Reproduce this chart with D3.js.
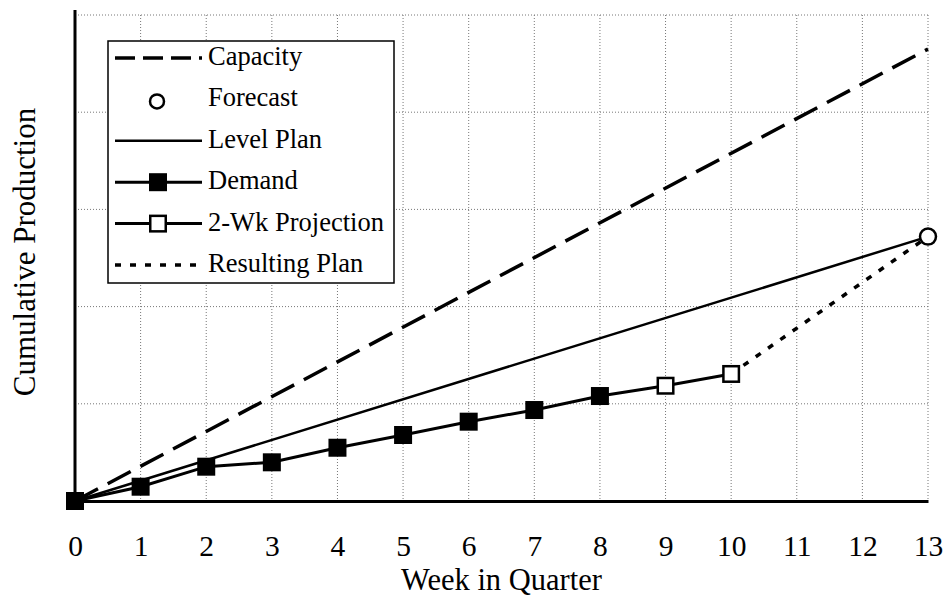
<!DOCTYPE html>
<html>
<head>
<meta charset="utf-8">
<script src="https://cdn.jsdelivr.net/npm/d3@7"></script>
<style>
  body { margin: 0; background: #fff; }
</style>
</head>
<body>
<div id="chart"></div>
<script>
// chart data (units: gridline step = 100)
var weekTicks = [0, 1, 2, 3, 4, 5, 6, 7, 8, 9, 10, 11, 12, 13];
var gridValues = [100, 200, 300, 400, 500];

var capacityWeeks = [0, 13];
var capacityValues = [0, 465];

var levelWeeks = [0, 13];
var levelValues = [0, 272];

var demandWeeks = [0, 1, 2, 3, 4, 5, 6, 7, 8];
var demandValues = [0, 14.7, 35.3, 39.8, 54.8, 67.9, 81.6, 93.6, 108];

var projectionWeeks = [8, 9, 10];
var projectionValues = [108, 118.6, 130.7];

var resultingWeeks = [10, 13];
var resultingValues = [130.7, 272];

var forecastWeek = [13];
var forecastValue = [272];

var legendLabels = ["Capacity", "Forecast", "Level Plan", "Demand", "2-Wk Projection", "Resulting Plan"];

var serif = "'Liberation Serif', Tinos, 'DejaVu Serif', 'Times New Roman', serif";

// set the dimensions
var width = 946, height = 599;
var margin = {top: 15, right: 18, bottom: 98, left: 75};

var svg = d3.select("#chart")
  .append("svg")
    .attr("width", width)
    .attr("height", height)
    .attr("font-family", serif);

var x = d3.scaleLinear()
    .domain([0, 13])
    .range([margin.left, width - margin.right]);

var y = d3.scaleLinear()
    .domain([0, 500])
    .range([height - margin.bottom, margin.top]);

function pts(ws, vs) { return ws.map(function(w, i) { return [w, vs[i]]; }); }

var line = d3.line()
    .x(function(d) { return x(d[0]); })
    .y(function(d) { return y(d[1]); });

// dotted grid
var grid = svg.append("g").attr("class", "grid")
    .attr("stroke", "#777")
    .attr("stroke-width", 1)
    .attr("stroke-dasharray", "1,2");

grid.selectAll("line.v")
  .data(weekTicks.slice(1))
  .enter().append("line")
    .attr("class", "v")
    .attr("x1", function(d) { return x(d); })
    .attr("x2", function(d) { return x(d); })
    .attr("y1", y(500))
    .attr("y2", y(0));

grid.selectAll("line.h")
  .data(gridValues)
  .enter().append("line")
    .attr("class", "h")
    .attr("x1", x(0))
    .attr("x2", x(13))
    .attr("y1", function(d) { return y(d); })
    .attr("y2", function(d) { return y(d); });

// x axis
var xAxis = svg.append("g")
    .attr("transform", "translate(0," + y(0) + ")")
    .call(d3.axisBottom(x).tickValues(weekTicks).tickSize(0).tickSizeOuter(0));
xAxis.attr("font-family", serif).attr("font-size", 29.5);
xAxis.select(".domain").attr("stroke", "#000").attr("stroke-width", 3);
xAxis.selectAll("text")
    .attr("y", 55)
    .attr("dy", 0);

// y axis (no ticks), runs a bit above the top gridline
var yAxis = svg.append("g")
    .attr("transform", "translate(" + x(0) + ",0)")
    .call(d3.axisLeft(y).tickValues([]).tickSizeOuter(0));
yAxis.select(".domain")
    .attr("d", "M0," + y(0) + "V" + (y(500) - 5))
    .attr("stroke", "#000").attr("stroke-width", 3);

// axis titles
svg.append("text")
    .attr("x", (x(0) + x(13)) / 2)
    .attr("y", 590)
    .attr("text-anchor", "middle")
    .attr("font-size", 30.5)
    .text("Week in Quarter");

svg.append("text")
    .attr("transform", "translate(35," + 252 + ") rotate(-90)")
    .attr("text-anchor", "middle")
    .attr("font-size", 31)
    .text("Cumulative Production");

// series
svg.append("path")
    .datum(pts(capacityWeeks, capacityValues))
    .attr("fill", "none")
    .attr("stroke", "#000")
    .attr("stroke-width", 3.5)
    .attr("stroke-dasharray", "26,11")
    .attr("d", line);

svg.append("path")
    .datum(pts(levelWeeks, levelValues))
    .attr("fill", "none")
    .attr("stroke", "#000")
    .attr("stroke-width", 2.5)
    .attr("d", line);

svg.append("path")
    .datum(pts(resultingWeeks, resultingValues))
    .attr("fill", "none")
    .attr("stroke", "#000")
    .attr("stroke-width", 3.5)
    .attr("stroke-dasharray", "6,9")
    .attr("d", line);

svg.append("path")
    .datum(pts(demandWeeks, demandValues).concat(pts(projectionWeeks, projectionValues).slice(1)))
    .attr("fill", "none")
    .attr("stroke", "#000")
    .attr("stroke-width", 3)
    .attr("d", line);

var sq = 18;
svg.append("g")
  .selectAll("rect")
  .data(pts(demandWeeks, demandValues))
  .enter().append("rect")
    .attr("x", function(d) { return x(d[0]) - sq / 2; })
    .attr("y", function(d) { return y(d[1]) - sq / 2; })
    .attr("width", sq)
    .attr("height", sq)
    .attr("fill", "#000");

svg.append("g")
  .selectAll("rect")
  .data(pts(projectionWeeks, projectionValues).slice(1))
  .enter().append("rect")
    .attr("x", function(d) { return x(d[0]) - sq / 2 + 1.25; })
    .attr("y", function(d) { return y(d[1]) - sq / 2 + 1.25; })
    .attr("width", sq - 2.5)
    .attr("height", sq - 2.5)
    .attr("fill", "#fff")
    .attr("stroke", "#000")
    .attr("stroke-width", 2.5);

svg.append("g")
  .selectAll("circle")
  .data(pts(forecastWeek, forecastValue))
  .enter().append("circle")
    .attr("cx", function(d) { return x(d[0]); })
    .attr("cy", function(d) { return y(d[1]); })
    .attr("r", 8)
    .attr("fill", "#fff")
    .attr("stroke", "#000")
    .attr("stroke-width", 2.5);

// legend
var legend = svg.append("g").attr("transform", "translate(108,41)");
legend.append("rect")
    .attr("width", 286)
    .attr("height", 242)
    .attr("fill", "#fff")
    .attr("stroke", "#000")
    .attr("stroke-width", 1.5);

var rowH = 41.4, lx1 = 7, lx2 = 94, lmid = 50;
var rows = legend.selectAll("g.row")
  .data(legendLabels)
  .enter().append("g")
    .attr("class", "row")
    .attr("transform", function(d, i) { return "translate(0," + (24 + i * rowH) + ")"; });

rows.append("text")
    .attr("x", 100)
    .attr("y", 0)
    .attr("font-size", 26.5)
    .text(function(d) { return d; });

rows.each(function(d, i) {
  var g = d3.select(this);
  var ly = -7;
  if (i === 0) {
    g.append("line").attr("x1", lx1).attr("x2", lx2).attr("y1", ly).attr("y2", ly)
      .attr("stroke", "#000").attr("stroke-width", 3.5).attr("stroke-dasharray", "20,8");
  } else if (i === 1) {
    g.append("circle").attr("cx", lmid - 1).attr("cy", ly + 2).attr("r", 7)
      .attr("fill", "#fff").attr("stroke", "#000").attr("stroke-width", 2.5);
  } else if (i === 2) {
    g.append("line").attr("x1", lx1).attr("x2", lx2).attr("y1", ly).attr("y2", ly)
      .attr("stroke", "#000").attr("stroke-width", 2.5);
  } else if (i === 3 || i === 4) {
    g.append("line").attr("x1", lx1).attr("x2", lx2).attr("y1", ly).attr("y2", ly)
      .attr("stroke", "#000").attr("stroke-width", 3);
    g.append("rect").attr("x", lmid - sq / 2 + 1.25).attr("y", ly - sq / 2 + 1.25)
      .attr("width", sq - 2.5).attr("height", sq - 2.5)
      .attr("fill", i === 3 ? "#000" : "#fff")
      .attr("stroke", "#000").attr("stroke-width", 2.5);
  } else {
    g.append("line").attr("x1", lx1).attr("x2", lx2).attr("y1", ly).attr("y2", ly)
      .attr("stroke", "#000").attr("stroke-width", 3.5).attr("stroke-dasharray", "6,9");
  }
});
</script>
</body>
</html>
